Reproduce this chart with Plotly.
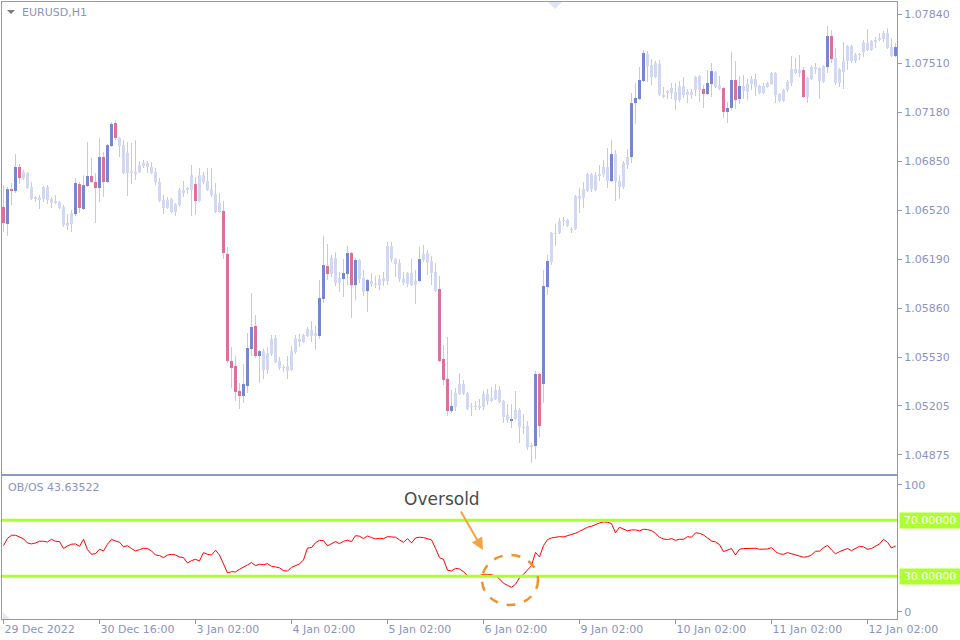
import plotly.graph_objects as go

W, H = 960, 640

symbol_label = "EURUSD,H1"
indicator_label = "OB/OS 43.63522"

opens = [1.06544,1.06429,1.06664,1.06651,1.06813,1.06738,1.06772,1.06678,1.06598,1.06605,
1.06598,1.06678,1.06598,1.06571,1.06578,1.06544,1.06416,1.06429,1.06496,1.06698,
1.06530,1.06685,1.06752,1.06712,1.06671,1.06880,1.06712,1.06954,1.07109,1.07008,
1.06960,1.06772,1.06785,1.06765,1.06779,1.06819,1.06840,1.06813,1.06779,1.06712,
1.06591,1.06537,1.06598,1.06510,1.06557,1.06638,1.06658,1.06658,1.06698,1.06584,
1.06758,1.06718,1.06664,1.06631,1.06510,1.06517,1.06227,1.05507,1.05474,1.05306,
1.05272,1.05339,1.05588,1.05743,1.05541,1.05574,1.05447,1.05554,1.05662,1.05507,
1.05460,1.05474,1.05447,1.05568,1.05635,1.05635,1.05676,1.05716,1.05676,1.05676,
1.05925,1.06147,1.06093,1.06200,1.06032,1.06059,1.06093,1.06234,1.06018,1.06187,
1.06066,1.05978,1.06046,1.06025,1.06018,1.06046,1.06046,1.06281,1.06193,1.06167,
1.06059,1.06025,1.06099,1.06018,1.06046,1.06187,1.06234,1.06180,1.06106,1.05992,
1.05521,1.05387,1.05171,1.05198,1.05285,1.05353,1.05292,1.05198,1.05205,1.05191,
1.05198,1.05285,1.05238,1.05252,1.05312,1.05238,1.05144,1.05103,1.05117,1.05178,
1.05063,1.05070,1.04929,1.04936,1.05420,1.05353,1.06005,1.06173,1.06362,1.06369,
1.06449,1.06456,1.06396,1.06396,1.06618,1.06605,1.06651,1.06765,1.06658,1.06752,
1.06765,1.06813,1.06718,1.06900,1.06718,1.06678,1.06826,1.06880,1.07243,1.07270,
1.07391,1.07573,1.07499,1.07418,1.07506,1.07297,1.07311,1.07311,1.07318,1.07264,
1.07358,1.07297,1.07318,1.07331,1.07425,1.07338,1.07304,1.07371,1.07452,1.07364,
1.07344,1.07183,1.07210,1.07398,1.07270,1.07324,1.07318,1.07371,1.07405,1.07358,
1.07311,1.07351,1.07371,1.07445,1.07304,1.07257,1.07331,1.07378,1.07472,1.07445,
1.07465,1.07284,1.07405,1.07485,1.07479,1.07385,1.07485,1.07694,1.07546,1.07378,
1.07452,1.07526,1.07627,1.07526,1.07566,1.07586,1.07647,1.07600,1.07654,1.07667,
1.07674,1.07714,1.07620,1.07559]

highs = [1.06691,1.06678,1.06705,1.06900,1.06833,1.06792,1.06779,1.06712,1.06618,1.06624,
1.06685,1.06691,1.06611,1.06624,1.06584,1.06557,1.06496,1.06523,1.06738,1.06712,
1.06758,1.06981,1.06873,1.06772,1.07008,1.06914,1.06967,1.07116,1.07129,1.07015,
1.06994,1.06981,1.06974,1.06994,1.06853,1.06860,1.06853,1.06846,1.06806,1.06738,
1.06624,1.06611,1.06605,1.06571,1.06671,1.06718,1.06678,1.06826,1.06745,1.06806,
1.06779,1.06806,1.06806,1.06705,1.06638,1.06584,1.06275,1.05602,1.05541,1.05360,
1.05487,1.05696,1.05965,1.05817,1.05581,1.05588,1.05602,1.05682,1.05682,1.05534,
1.05480,1.05541,1.05608,1.05682,1.05689,1.05689,1.05736,1.05776,1.05743,1.06052,
1.06349,1.06295,1.06220,1.06241,1.06106,1.06193,1.06281,1.06241,1.06200,1.06193,
1.06120,1.06059,1.06099,1.06079,1.06086,1.06106,1.06308,1.06308,1.06200,1.06193,
1.06106,1.06106,1.06193,1.06120,1.06275,1.06288,1.06254,1.06214,1.06167,1.06079,
1.05615,1.05669,1.05312,1.05326,1.05427,1.05380,1.05299,1.05225,1.05238,1.05252,
1.05306,1.05319,1.05333,1.05353,1.05339,1.05245,1.05218,1.05218,1.05306,1.05191,
1.05151,1.05103,1.04956,1.05440,1.05427,1.06120,1.06220,1.06376,1.06429,1.06470,
1.06476,1.06463,1.06409,1.06624,1.06671,1.06712,1.06772,1.06772,1.06779,1.06826,
1.06860,1.06940,1.06994,1.06927,1.06758,1.06853,1.06934,1.07311,1.07378,1.07485,
1.07600,1.07593,1.07539,1.07526,1.07533,1.07351,1.07331,1.07378,1.07378,1.07391,
1.07418,1.07338,1.07338,1.07425,1.07432,1.07364,1.07465,1.07512,1.07458,1.07425,
1.07351,1.07250,1.07586,1.07526,1.07425,1.07432,1.07405,1.07425,1.07438,1.07364,
1.07378,1.07385,1.07452,1.07452,1.07311,1.07338,1.07398,1.07559,1.07546,1.07566,
1.07485,1.07418,1.07499,1.07512,1.07485,1.07499,1.07761,1.07734,1.07613,1.07479,
1.07654,1.07633,1.07633,1.07580,1.07580,1.07667,1.07741,1.07667,1.07687,1.07714,
1.07728,1.07748,1.07680,1.07647]

lows = [1.06376,1.06349,1.06557,1.06638,1.06698,1.06725,1.06664,1.06591,1.06578,1.06530,
1.06578,1.06564,1.06537,1.06564,1.06530,1.06409,1.06389,1.06376,1.06483,1.06503,
1.06523,1.06678,1.06705,1.06436,1.06578,1.06611,1.06705,1.06947,1.06994,1.06880,
1.06765,1.06618,1.06698,1.06725,1.06772,1.06806,1.06772,1.06765,1.06691,1.06578,
1.06496,1.06530,1.06503,1.06483,1.06544,1.06611,1.06631,1.06483,1.06490,1.06578,
1.06698,1.06651,1.06611,1.06503,1.06503,1.06193,1.05494,1.05326,1.05238,1.05185,
1.05225,1.05292,1.05541,1.05527,1.05360,1.05387,1.05420,1.05541,1.05494,1.05447,
1.05433,1.05387,1.05440,1.05554,1.05602,1.05628,1.05669,1.05635,1.05581,1.05655,
1.05898,1.06052,1.06073,1.06012,1.05972,1.05938,1.06018,1.05797,1.05918,1.06032,
1.05945,1.05837,1.06005,1.05998,1.05985,1.06012,1.06018,1.06173,1.06073,1.06039,
1.06018,1.06005,1.06012,1.05891,1.06039,1.06173,1.06086,1.06018,1.05972,1.05500,
1.05346,1.05137,1.05157,1.05171,1.05279,1.05279,1.05178,1.05137,1.05178,1.05178,
1.05178,1.05211,1.05232,1.05245,1.05225,1.05090,1.05090,1.05056,1.05110,1.04956,
1.05016,1.04909,1.04821,1.04848,1.04996,1.05225,1.05952,1.06153,1.06281,1.06362,
1.06416,1.06409,1.06369,1.06389,1.06503,1.06537,1.06644,1.06644,1.06651,1.06718,
1.06745,1.06671,1.06712,1.06584,1.06598,1.06664,1.06799,1.06840,1.07102,1.07264,
1.07385,1.07385,1.07364,1.07411,1.07290,1.07277,1.07270,1.07270,1.07196,1.07250,
1.07277,1.07243,1.07270,1.07290,1.07250,1.07210,1.07297,1.07284,1.07344,1.07331,
1.07143,1.07109,1.07196,1.07203,1.07237,1.07270,1.07264,1.07331,1.07290,1.07304,
1.07304,1.07344,1.07364,1.07243,1.07250,1.07250,1.07318,1.07358,1.07438,1.07418,
1.07277,1.07243,1.07398,1.07438,1.07270,1.07378,1.07445,1.07512,1.07364,1.07351,
1.07338,1.07465,1.07512,1.07512,1.07533,1.07553,1.07593,1.07593,1.07613,1.07661,
1.07654,1.07607,1.07553,1.07553]

closes = [1.06436,1.06664,1.06651,1.06813,1.06738,1.06779,1.06671,1.06598,1.06611,1.06591,
1.06678,1.06591,1.06571,1.06584,1.06537,1.06422,1.06436,1.06503,1.06705,1.06537,
1.06691,1.06752,1.06712,1.06671,1.06880,1.06712,1.06960,1.07102,1.07008,1.06954,
1.06772,1.06907,1.06772,1.06779,1.06826,1.06840,1.06813,1.06772,1.06712,1.06584,
1.06537,1.06591,1.06510,1.06564,1.06658,1.06658,1.06671,1.06758,1.06584,1.06758,
1.06712,1.06658,1.06624,1.06510,1.06571,1.06234,1.05507,1.05460,1.05299,1.05272,
1.05353,1.05595,1.05736,1.05541,1.05574,1.05447,1.05561,1.05655,1.05500,1.05460,
1.05467,1.05440,1.05574,1.05662,1.05655,1.05682,1.05723,1.05676,1.05696,1.05931,
1.06153,1.06093,1.06200,1.06032,1.06066,1.06099,1.06234,1.06018,1.06187,1.06059,
1.05972,1.06052,1.06025,1.06018,1.06059,1.06066,1.06281,1.06193,1.06160,1.06059,
1.06032,1.06099,1.06018,1.06046,1.06193,1.06227,1.06173,1.06099,1.05978,1.05507,
1.05380,1.05171,1.05205,1.05292,1.05353,1.05285,1.05185,1.05205,1.05198,1.05205,
1.05285,1.05238,1.05258,1.05312,1.05232,1.05130,1.05110,1.05117,1.05178,1.05063,
1.05056,1.04929,1.04942,1.05420,1.05070,1.06012,1.06180,1.06369,1.06369,1.06449,
1.06456,1.06416,1.06389,1.06618,1.06598,1.06664,1.06765,1.06664,1.06758,1.06765,
1.06813,1.06718,1.06900,1.06712,1.06678,1.06840,1.06880,1.07243,1.07277,1.07398,
1.07580,1.07492,1.07418,1.07512,1.07297,1.07284,1.07324,1.07344,1.07264,1.07358,
1.07297,1.07318,1.07297,1.07418,1.07331,1.07304,1.07378,1.07458,1.07351,1.07338,
1.07183,1.07210,1.07398,1.07264,1.07358,1.07358,1.07371,1.07405,1.07351,1.07311,
1.07358,1.07378,1.07445,1.07297,1.07257,1.07331,1.07385,1.07472,1.07445,1.07465,
1.07284,1.07411,1.07485,1.07472,1.07391,1.07492,1.07694,1.07539,1.07378,1.07472,
1.07526,1.07627,1.07526,1.07566,1.07573,1.07654,1.07600,1.07661,1.07667,1.07680,
1.07714,1.07613,1.07559,1.07620]

# bars painted by the indicator (blue = up, pink = down); others light
highlighted = [0,1,2,3,4,18,19,20,21,22,23,24,25,26,27,28,48,55,56,57,58,59,60,61,62,
               63,64,79,80,81,85,86,87,88,91,104,109,110,111,112,127,133,134,135,136,
               152,157,158,159,160,175,176,177,180,181,182,183,184,200,206,207,223]

obos = [51.9, 57.1, 59.3, 59.3, 58.1, 56.7, 53.8, 53.1, 53.8, 55.0,
 55.0, 54.5, 56.4, 55.0, 54.8, 49.8, 51.7, 52.9, 53.1, 51.4,
 56.4, 49.0, 45.7, 46.2, 49.3, 48.1, 52.9, 56.4, 55.2, 54.3,
 51.0, 51.9, 49.8, 48.1, 49.0, 50.0, 49.8, 48.1, 45.2, 44.8,
 43.3, 45.2, 45.7, 45.2, 43.8, 43.3, 39.5, 41.2, 42.1, 41.0,
 46.9, 45.7, 45.2, 48.6, 45.2, 38.1, 32.4, 33.3, 33.1, 35.0,
 36.4, 38.1, 39.8, 37.6, 38.6, 38.3, 39.0, 37.1, 36.7, 36.0,
 34.0, 33.8, 36.4, 37.4, 38.8, 41.7, 50.2, 50.5, 54.0, 55.7,
 55.5, 51.7, 53.3, 54.8, 53.3, 55.0, 55.7, 54.8, 59.0, 58.6,
 56.9, 58.8, 57.6, 56.7, 57.1, 56.9, 58.3, 57.9, 57.9, 56.0,
 54.3, 56.9, 53.8, 57.4, 57.9, 57.6, 56.9, 56.0, 50.0, 43.3,
 42.1, 34.3, 33.8, 35.7, 35.2, 33.3, 30.5, 30.2, 30.0, 30.6,
 31.4, 31.4, 31.2, 30.2, 28.1, 25.0, 23.3, 22.1, 24.3, 29.0,
 31.4, 34.5, 37.6, 47.1, 43.8, 51.9, 56.2, 57.4, 57.9, 58.3,
 58.1, 58.8, 59.5, 60.7, 62.1, 63.8, 65.0, 65.7, 67.1, 68.1,
 68.8, 68.6, 67.6, 61.0, 65.0, 63.8, 62.4, 63.1, 63.1, 62.4,
 63.6, 63.3, 62.6, 60.7, 57.9, 56.7, 56.2, 56.9, 55.7, 56.4,
 56.4, 58.3, 57.9, 61.0, 60.7, 59.5, 57.6, 55.2, 54.5, 52.6,
 47.6, 48.8, 49.8, 45.2, 49.3, 49.8, 50.0, 50.0, 50.0, 49.3,
 49.3, 49.5, 50.5, 47.6, 46.0, 45.7, 46.9, 46.2, 45.2, 44.5,
 43.6, 44.0, 45.2, 47.9, 47.9, 50.5, 52.1, 48.8, 46.0, 47.6,
 48.8, 49.8, 48.3, 49.8, 51.4, 51.0, 49.3, 49.8, 51.4, 53.1,
 56.4, 54.3, 50.2, 51.7]

levels = [70, 30]
level_labels = ["70.00000", "30.00000"]

price_ticks = [1.04875, 1.05205, 1.05530, 1.05860, 1.06190, 1.06520,
               1.06850, 1.07180, 1.07510, 1.07840]
date_tick_bars = [0, 24, 48, 72, 96, 120, 144, 168, 192, 216]
date_labels = ["29 Dec 2022", "30 Dec 16:00", "3 Jan 02:00", "4 Jan 02:00",
               "5 Jan 02:00", "6 Jan 02:00", "9 Jan 02:00", "10 Jan 02:00",
               "11 Jan 02:00", "12 Jan 02:00"]

# ---- styling ----
BLUE = "#7886cf"
PINK = "#db7099"
LIGHT = "#d2d7f3"
WICK = "#c7cade"
FRAME = "#8e98c2"
LABEL = "#8c93c0"
GREEN = "#adff2f"
FONT = "DejaVu Sans"

n = len(opens)
bars = list(range(n))
hl = set(highlighted)
body_base = [min(o, c) for o, c in zip(opens, closes)]
body_len = [max(abs(c - o), 0.00007) for o, c in zip(opens, closes)]
body_col = [((BLUE if c >= o else PINK) if i in hl else LIGHT)
            for i, (o, c) in enumerate(zip(opens, closes))]
wick_len = [h - l for h, l in zip(highs, lows)]

def px(x):
    return x / W

def py(y):
    return 1 - y / H

fig = go.Figure()
fig.add_trace(go.Bar(x=bars, base=lows, y=wick_len, width=0.25,
                     marker=dict(color=WICK, line=dict(width=0)),
                     xaxis="x", yaxis="y", hoverinfo="skip"))
fig.add_trace(go.Bar(x=bars, base=body_base, y=body_len, width=0.75,
                     marker=dict(color=body_col, line=dict(width=0)),
                     xaxis="x", yaxis="y", hoverinfo="skip"))
fig.add_trace(go.Scatter(x=bars, y=obos, mode="lines",
                         line=dict(color="#ff0000", width=1),
                         xaxis="x2", yaxis="y2", hoverinfo="skip"))

xr = [-0.375, n - 0.625]
tickfont = dict(family=FONT, size=11, color=LABEL)

fig.update_layout(
    width=W, height=H, autosize=False,
    margin=dict(l=0, r=0, t=0, b=0, pad=0, autoexpand=False),
    paper_bgcolor="white", plot_bgcolor="white",
    showlegend=False, barmode="overlay", hovermode=False,
    font=dict(family=FONT, size=11, color=LABEL),
    xaxis=dict(domain=[px(2), px(897)], range=xr, anchor="y", automargin=False,
               showline=True, mirror=True, linecolor=FRAME, linewidth=1,
               showticklabels=False, ticks="", showgrid=False, zeroline=False),
    yaxis=dict(domain=[py(474), py(2)], range=[1.04747, 1.07923], anchor="x",
               automargin=False,
               side="right", showline=True, mirror=True, linecolor=FRAME,
               linewidth=1, ticks="outside", ticklen=4, tickcolor=FRAME,
               tickvals=price_ticks, ticktext=[f"{v:.5f}" for v in price_ticks],
               tickfont=tickfont, showgrid=False, zeroline=False),
    xaxis2=dict(domain=[px(2), px(897)], range=xr, anchor="y2", automargin=False,
                showline=True, mirror=True, linecolor=FRAME, linewidth=1,
                ticks="outside", ticklen=4, tickcolor=FRAME,
                tickvals=date_tick_bars, ticktext=date_labels,
                ticklabelposition="outside right", tickfont=tickfont,
                showgrid=False, zeroline=False),
    yaxis2=dict(domain=[py(619), py(476)], range=[-0.5, 101.6], anchor="x2",
                automargin=False,
                side="right", showline=True, mirror=True, linecolor=FRAME,
                linewidth=1, ticks="outside", ticklen=4, tickcolor=FRAME,
                tickvals=[4.7, 95.2], ticktext=["0", "100"],
                tickfont=tickfont, showgrid=False, zeroline=False),
)

shapes = []
for lv in levels:
    shapes.append(dict(type="line", xref="x2 domain", yref="y2", x0=0, x1=1,
                       y0=lv, y1=lv, line=dict(color=GREEN, width=3), layer="above"))
# MT4 chart-shift marker (top) and corner marker (lower panel)
shapes.append(dict(type="path", xref="paper", yref="paper",
                   path=f"M {px(548)},{py(2)} L {px(562)},{py(2)} L {px(555)},{py(9)} Z",
                   fillcolor="#dfe3f6", line=dict(width=0)))
shapes.append(dict(type="path", xref="paper", yref="paper",
                   path=f"M {px(3)},{py(612)} L {px(3)},{py(619)} L {px(10)},{py(619)} Z",
                   fillcolor="#e3e6f5", line=dict(width=0)))
shapes.append(dict(type="path", xref="paper", yref="paper",
                   path=f"M {px(7)},{py(10)} L {px(15)},{py(10)} L {px(11)},{py(14)} Z",
                   fillcolor="#7a7a7a", line=dict(width=0)))
# dashed circle around the oversold dip
shapes.append(dict(type="circle", xref="paper", yref="paper",
                   x0=px(482), x1=px(538), y0=py(605), y1=py(555),
                   line=dict(color="#f0922b", width=2.5, dash="dash"), layer="above"))
fig.update_layout(shapes=shapes)

ann = [
    dict(text=symbol_label, x=px(20), y=py(13), xref="paper", yref="paper",
         xanchor="left", yanchor="middle", showarrow=False,
         font=dict(family=FONT, size=11, color=LABEL)),
    dict(text=indicator_label, x=px(6), y=py(487), xref="paper", yref="paper",
         xanchor="left", yanchor="middle", showarrow=False,
         font=dict(family=FONT, size=11, color=LABEL)),
    dict(text="Oversold", x=px(442), y=py(499), xref="paper", yref="paper",
         xanchor="center", yanchor="middle", showarrow=False,
         font=dict(family=FONT, size=17, color="#4a4a4a")),
    dict(text="", x=px(483), y=py(550), xref="paper", yref="paper",
         ax=-23, ay=-40, showarrow=True, arrowhead=2, arrowsize=1.2,
         arrowwidth=2, arrowcolor="#f2a444", standoff=0),
]
for lv, lab in zip(levels, level_labels):
    ann.append(dict(text=lab, x=px(899), y=lv, xref="paper", yref="y2",
                    xanchor="left", yanchor="middle", showarrow=False,
                    bgcolor=GREEN, width=60, height=15, borderpad=0,
                    font=dict(family=FONT, size=11, color="white")))
fig.update_layout(annotations=ann)

fig.write_html("out.html",
               config={"displayModeBar": False, "staticPlot": True},
               post_script="document.body.style.margin='0';"
                           "document.body.style.overflow='hidden';")
